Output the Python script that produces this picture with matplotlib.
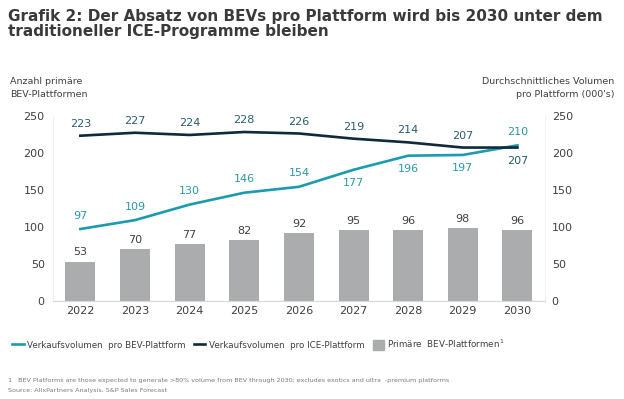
import numpy as np
import matplotlib.pyplot as plt
from matplotlib.patches import Patch
from matplotlib.lines import Line2D

plt.rcParams['font.family'] = ['DejaVu Sans']

# Daten
years = ['2022', '2023', '2024', '2025', '2026', '2027', '2028', '2029', '2030']
platforms = [53, 70, 77, 82, 92, 95, 96, 98, 96]
bev_volume = [97, 109, 130, 146, 154, 177, 196, 197, 210]
ice_volume = [223, 227, 224, 228, 226, 219, 214, 207, 207]

# Farben
bar_col = '#abacae'
bev_col = '#1a9bb0'
ice_col = '#0f2a3a'
bev_lab = '#2a98a8'
ice_lab = '#2a5c6e'
txt_col = '#404040'

fig = plt.figure(figsize=(6.24, 3.99), dpi=100)
ax = fig.add_axes([0.085, 0.246, 0.788, 0.464])
ax2 = ax.twinx()

x = np.arange(len(years))

# Balken (linke Achse)
ax.bar(x, platforms, width=0.55, color=bar_col, zorder=2)
for xi, v in zip(x, platforms):
    ax.annotate(str(v), (xi, v), xytext=(0, 3), textcoords='offset points',
                ha='center', va='bottom', fontsize=8, color=txt_col)

# Linien (rechte Achse)
ax2.plot(x, bev_volume, color=bev_col, lw=1.9, zorder=3)
ax2.plot(x, ice_volume, color=ice_col, lw=1.9, zorder=4)

# Beschriftungen der Linien: oben oder unten
bev_pos = ['a', 'a', 'a', 'a', 'a', 'b', 'b', 'b', 'a']
ice_pos = ['a', 'a', 'a', 'a', 'a', 'a', 'a', 'a', 'b']
for xi, v, p in zip(x, bev_volume, bev_pos):
    off = 6 if p == 'a' else -6
    ax2.annotate(str(v), (xi, v), xytext=(0, off), textcoords='offset points',
                 ha='center', va='bottom' if p == 'a' else 'top',
                 fontsize=8, color=bev_lab)
for xi, v, p in zip(x, ice_volume, ice_pos):
    off = 5 if p == 'a' else -6
    ax2.annotate(str(v), (xi, v), xytext=(0, off), textcoords='offset points',
                 ha='center', va='bottom' if p == 'a' else 'top',
                 fontsize=8, color=ice_lab)

for a in (ax, ax2):
    a.set_ylim(0, 250)
    a.set_yticks([0, 50, 100, 150, 200, 250])
    a.set_xlim(-0.5, 8.5)
    for s in a.spines.values():
        s.set_visible(False)
    a.spines['bottom'].set_visible(True)
    a.spines['bottom'].set_color('#d9d9d9')
    a.tick_params(length=0, labelsize=8, labelcolor=txt_col)

ax.spines['left'].set_visible(True)
ax.spines['left'].set_color('#f0f0f0')
ax2.spines['right'].set_visible(True)
ax2.spines['right'].set_color('#f0f0f0')
ax.set_xticks(x)
ax.set_xticklabels(years)
ax.tick_params(axis='y', pad=6)
ax.tick_params(axis='x', pad=4)
ax2.tick_params(axis='y', pad=5)

# Titel und Achsentitel
fig.text(0.013, 0.978, 'Grafik 2: Der Absatz von BEVs pro Plattform wird bis 2030 unter dem\n'
         'traditioneller ICE-Programme bleiben', ha='left', va='top',
         fontsize=11, fontweight='bold', color='#3a3a3a', linespacing=1.05)
fig.text(0.016, 0.78, 'Anzahl primäre\nBEV-Plattformen', ha='left', va='center',
         fontsize=6.8, color=txt_col, linespacing=1.55)
fig.text(0.985, 0.78, "Durchschnittliches Volumen\npro Plattform (000's)", ha='right',
         va='center', fontsize=6.8, color=txt_col, linespacing=1.55)

# Legende
handles = [Line2D([0], [0], color=bev_col, lw=1.9),
           Line2D([0], [0], color=ice_col, lw=1.9),
           Patch(color=bar_col)]
labels = ['Verkaufsvolumen  pro BEV-Plattform', 'Verkaufsvolumen  pro ICE-Plattform',
          'Primäre  BEV-Plattformen$^{\\,1}$']
fig.legend(handles, labels, loc='center', bbox_to_anchor=(0.415, 0.138), ncol=3,
           frameon=False, fontsize=6.3, handlelength=1.3, handleheight=1.5,
           handletextpad=0.35, columnspacing=1.0, labelcolor=txt_col)

# Fussnote
fig.text(0.013, 0.047, '1   BEV Platforms are those expected to generate >80% volume from BEV '
         'through 2030; excludes exotics and ultra  -premium platforms',
         ha='left', va='center', fontsize=4.6, color='#7a7a7a')
fig.text(0.013, 0.022, 'Source: AlixPartners Analysis, S&P Sales Forecast',
         ha='left', va='center', fontsize=4.6, color='#7a7a7a')

fig.savefig('out.png', dpi=100)
